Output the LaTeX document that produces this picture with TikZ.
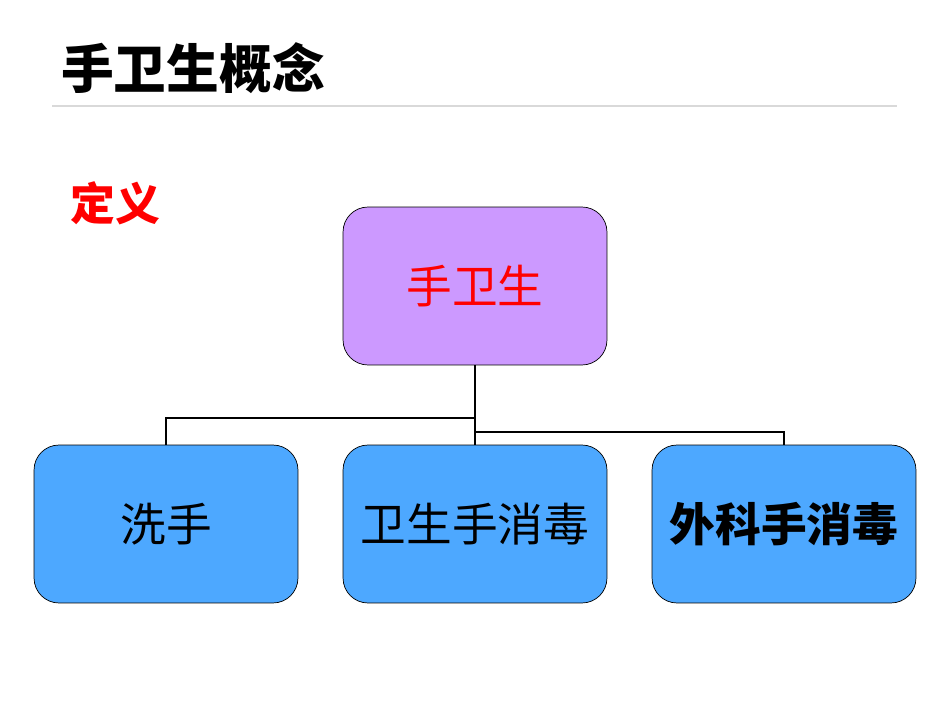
\documentclass[tikz,border=0pt]{standalone}
\usepackage{fontspec}
\setmainfont{Noto Sans CJK SC}
\newfontfamily\cjkb{Noto Sans CJK SC}[BoldFont={Noto Sans CJK SC Bold}]
\begin{document}
\begin{tikzpicture}[x=0.02cm,y=-0.02cm,
  box/.style={draw=black,rounded corners=0.5cm,minimum width=5.28cm,minimum height=3.16cm,inner sep=0pt,font=\fontsize{26pt}{30pt}\selectfont},
  leaf/.style={box,fill=blueF},
  conn/.style={line width=1.3pt,black}]
\definecolor{blueF}{HTML}{4DA8FF}
\definecolor{purpF}{HTML}{CC99FF}
\useasboundingbox (0,0) rectangle (950,713);
\node[anchor=west,font=\fontsize{30pt}{34pt}\selectfont\bfseries] (title) at (55,68) {手卫生概念};
\draw[gray!30,line width=0.6pt] (52,106) -- (897,106);
\node[anchor=west,text=red,font=\fontsize{25.5pt}{30pt}\selectfont\bfseries] (def) at (64,203) {定义};
\node[box,fill=purpF,text=red] (top) at (475,286) {手卫生};
\node[leaf] (l1) at (166,524) {洗手};
\node[leaf] (l2) at (475,524) {卫生手消毒};
\node[leaf,font=\fontsize{26pt}{30pt}\selectfont\bfseries] (l3) at (784,524) {外科手消毒};
\draw[conn] (top.south) -- (l2.north);
\draw[conn] (top.south) ++(0,53) -| (l1.north);
\draw[conn] (top.south) ++(0,67) -| (l3.north);
\end{tikzpicture}
\end{document}
